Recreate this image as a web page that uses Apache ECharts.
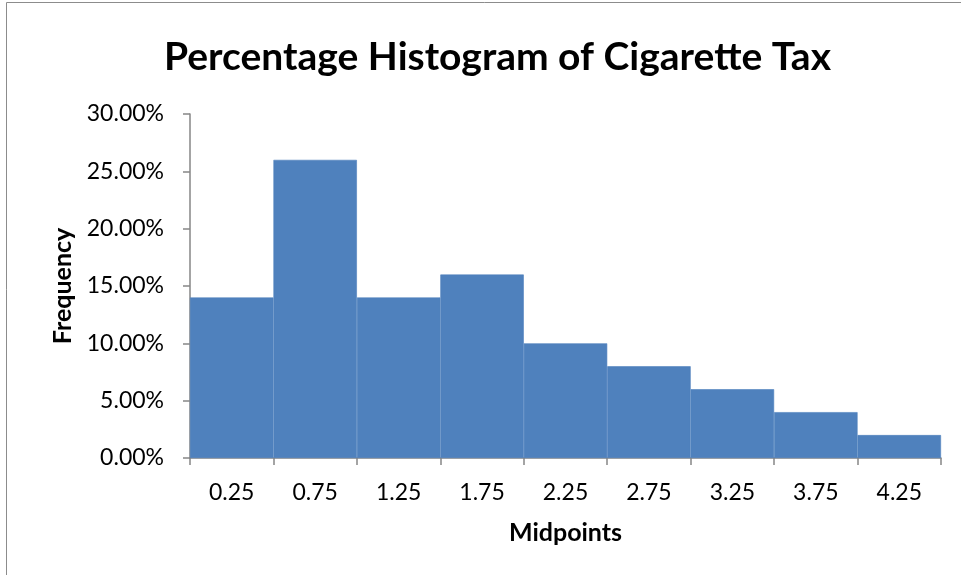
<!DOCTYPE html>
<html><head><meta charset="utf-8">
<script src="https://cdn.jsdelivr.net/npm/echarts@6/dist/echarts.min.js"></script>
<style>html,body{margin:0;padding:0;background:#fff}#c{width:961px;height:575px}</style>
</head><body><div id="c"></div>
<script>
var categories = ['0.25','0.75','1.25','1.75','2.25','2.75','3.25','3.75','4.25'];
var percentages = [14, 26, 14, 16, 10, 8, 6, 4, 2];
var yTicks = [0, 5, 10, 15, 20, 25, 30];

var chart = echarts.init(document.getElementById('c'));
var font = 'Lato, "Open Sans", sans-serif';
chart.setOption({
  animation: false,
  title: {
    text: 'Percentage Histogram of Cigarette Tax',
    left: 159, top: 33,
    textStyle: {fontFamily: font, fontWeight: 'bold', fontSize: 39, color: '#000'}
  },
  graphic: [{type: 'rect', shape: {x: 6.5, y: 2.5, width: 1000, height: 1000},
    style: {fill: 'none', stroke: '#8c8c8c', lineWidth: 1}, silent: true}],
  grid: {left: 190, right: 20, top: 114, bottom: 117},
  xAxis: {
    type: 'category', data: categories,
    name: 'Midpoints', nameLocation: 'middle', nameGap: 62,
    nameTextStyle: {fontFamily: font, fontWeight: 'bold', fontSize: 25, color: '#000'},
    axisLine: {lineStyle: {color: '#868686', width: 1.5}},
    axisTick: {show: true, length: 7, lineStyle: {color: '#868686', width: 1.5}},
    axisLabel: {fontFamily: font, fontSize: 23, color: '#000', margin: 23}
  },
  yAxis: {
    type: 'value', min: 0, max: 30, interval: 5,
    name: 'Frequency', nameLocation: 'middle', nameGap: 114,
    nameTextStyle: {fontFamily: font, fontWeight: 'bold', fontSize: 25, color: '#000'},
    axisLine: {show: true, lineStyle: {color: '#868686', width: 1.5}},
    axisTick: {show: true, length: 7, lineStyle: {color: '#868686', width: 1.5}},
    splitLine: {show: false},
    axisLabel: {fontFamily: font, fontSize: 23, color: '#000', margin: 26,
      formatter: function(v){ return v.toFixed(2) + '%'; }}
  },
  series: [{
    type: 'bar', data: percentages, barCategoryGap: '0%',
    itemStyle: {color: '#4F81BD', borderColor: '#4F81BD', borderWidth: 0.6}
  }]
});
</script></body></html>
